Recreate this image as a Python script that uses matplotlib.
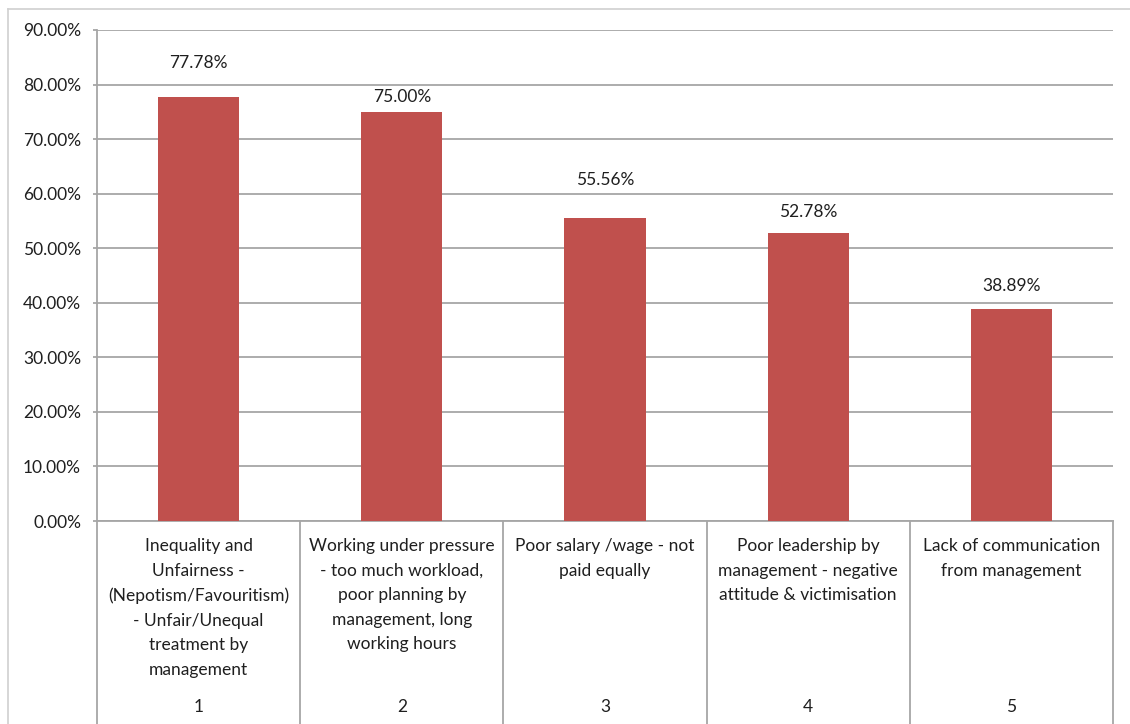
import matplotlib
matplotlib.use("Agg")
import matplotlib.pyplot as plt
import matplotlib.transforms as mtransforms
from matplotlib.ticker import FuncFormatter, MultipleLocator

# --- data ---
categories = [
    "Inequality and\nUnfairness -\n(Nepotism/Favouritism)\n- Unfair/Unequal\ntreatment by\nmanagement",
    "Working under pressure\n- too much workload,\npoor planning by\nmanagement, long\nworking hours",
    "Poor salary /wage - not\npaid equally",
    "Poor leadership by\nmanagement - negative\nattitude & victimisation",
    "Lack of communication\nfrom management",
]
ranks = ["1", "2", "3", "4", "5"]
values = [77.78, 75.00, 55.56, 52.78, 38.89]

# label centre distance above each bar top (pixels), as placed in the original
label_gap_px = [34, 15, 38, 21, 23]

plt.rcParams["font.family"] = ["Lato", "DejaVu Sans"]
text_color = "#1F1F1F"
grid_color = "#A6A6A6"
bar_color = "#C0504D"

W, H = 1130, 724
fig = plt.figure(figsize=(W / 100, H / 100), dpi=100)

# plot area in pixel coords
left, right, top, bottom = 97, 1113, 30, 521
ax = fig.add_axes([left / W, (H - bottom) / H, (right - left) / W, (bottom - top) / H])

x = list(range(len(values)))
ax.bar(x, [v / 100 for v in values], width=0.4, color=bar_color, zorder=3)

ax.set_xlim(-0.5, len(values) - 0.5)
ax.set_ylim(0, 0.9)
ax.yaxis.set_major_locator(MultipleLocator(0.1))
ax.yaxis.set_major_formatter(FuncFormatter(lambda v, p: f"{v * 100:.2f}%"))
ax.grid(axis="y", color=grid_color, linewidth=1.3, zorder=0)
ax.set_xticks([])

for s in ["top", "right"]:
    ax.spines[s].set_visible(False)
for s in ["left", "bottom"]:
    ax.spines[s].set_color(grid_color)
    ax.spines[s].set_linewidth(1.3)
ax.tick_params(axis="y", colors=grid_color, length=3, width=1.3,
               labelcolor=text_color, labelsize=12.5, pad=8.5)

# value labels
for xi, v, gap in zip(x, values, label_gap_px):
    ax.annotate(f"{v:.2f}%", (xi, v / 100), xytext=(0, gap * 0.72),
                textcoords="offset points", ha="center", va="center",
                fontsize=12.5, color=text_color)

# category table below the axis
ah = bottom - top
def yfrac(py):
    return (bottom - py) / ah

trans = mtransforms.blended_transform_factory(ax.transData, ax.transAxes)
for b in range(len(values) + 1):
    ax.plot([b - 0.5, b - 0.5], [0, yfrac(H + 5)], transform=trans,
            color=grid_color, linewidth=1.3, clip_on=False)

for xi, cat, r in zip(x, categories, ranks):
    ax.text(xi, yfrac(538), cat, transform=trans, ha="center", va="top",
            fontsize=12.5, color=text_color, linespacing=1.66, multialignment="center")
    ax.text(xi, yfrac(707), r, transform=trans, ha="center", va="center",
            fontsize=12.5, color=text_color)

# outer chart border (top and left visible in the crop)
fig.add_artist(plt.Line2D([8 / W, 1], [1 - 9 / H, 1 - 9 / H], color="#D0D0D0", linewidth=1.2))
fig.add_artist(plt.Line2D([8 / W, 8 / W], [0, 1 - 9 / H], color="#D0D0D0", linewidth=1.2))

fig.savefig("out.png", dpi=100)
